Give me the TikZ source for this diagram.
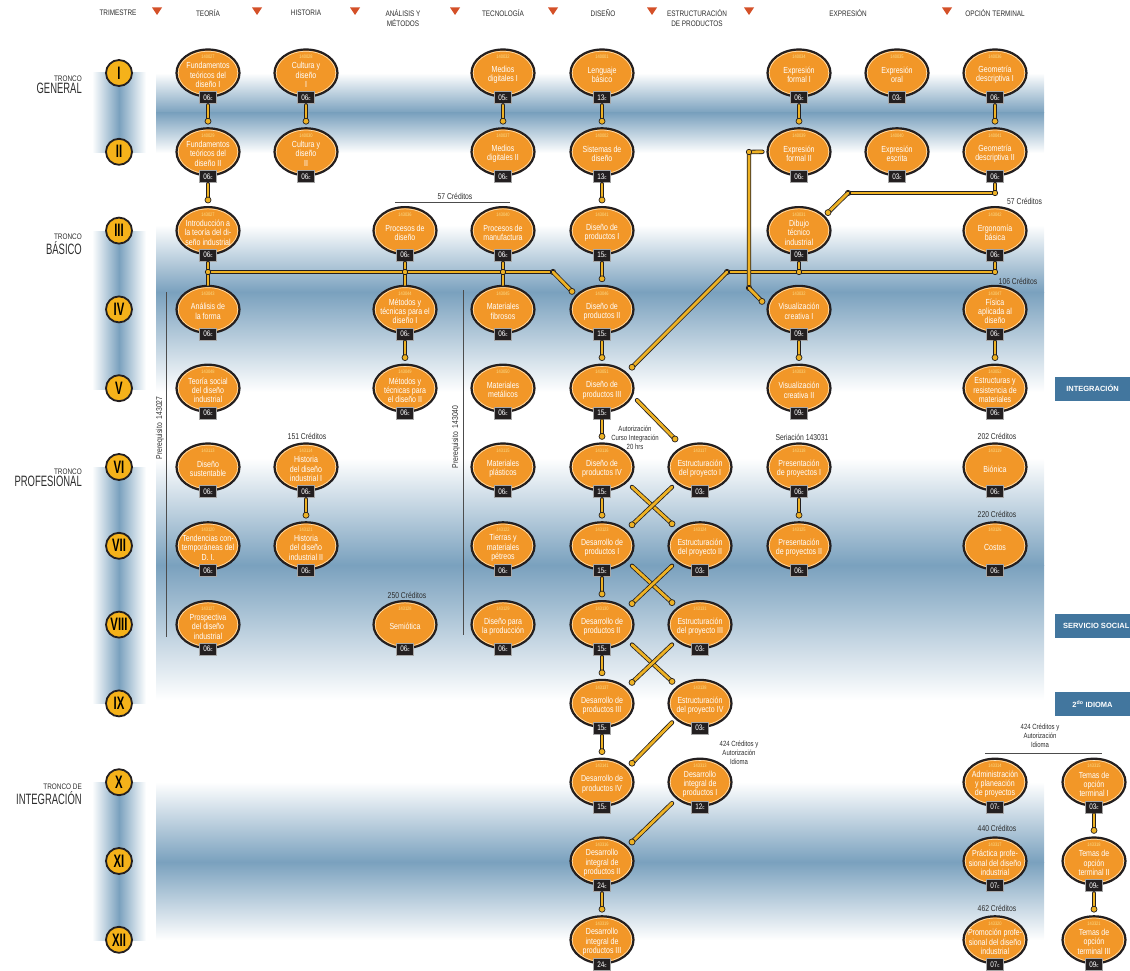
\documentclass[tikz,border=0pt]{standalone}
\usepackage{fontspec}
\setmainfont{Liberation Sans}[FakeStretch=0.8]
\newfontfamily\romfont{Liberation Sans}[FakeStretch=0.63]
\newfontfamily\cajafont{Liberation Sans}
\usetikzlibrary{shapes.geometric,calc,positioning}

\definecolor{naranja}{RGB}{242,151,40}
\definecolor{borde}{RGB}{35,31,32}
\definecolor{crema}{RGB}{252,226,185}
\definecolor{amarillo}{RGB}{250,222,140}
\definecolor{amarilloc}{RGB}{245,178,26}
\definecolor{oro}{RGB}{238,178,36}
\definecolor{banda}{RGB}{122,161,190}
\definecolor{azulcaja}{RGB}{66,118,158}
\definecolor{flecha}{RGB}{212,80,40}
\definecolor{texto}{RGB}{45,45,45}

% materia: nombre, posicion, clave, titulo, creditos
\newcommand\curso[5]{%
  \node[curso] (#1) at (#2) {};
  \draw[anillo] (#1.center) ellipse (29.7pt and 21.7pt);
  \node[clave] (#1-k) at ([yshift=-8.5pt]#1.north) {#3};
  \node[titulo] (#1-t) at ([yshift=-2pt]#1.center) {#4};
  \node[creditos] (#1-c) at (#1.south) {#5{\fontsize{5.5}{5.5}\selectfont c}};
}
% seriacion vertical
\newcommand\enlace[2]{%
  \draw[barra] ([yshift=-1.5pt]#1-c.south) -- ([yshift=8pt]#2.north);
  \filldraw[punto] ([yshift=6pt]#2.north) circle (3pt);
}
% seriacion diagonal
\newcommand\diagonal[2]{%
  \draw[barra] (#1) -- (#2);
  \filldraw[punto] (#2) circle (3pt);
}
\newcommand\junta[1]{\filldraw[punto] (#1) circle (2.7pt);}

\begin{document}
\begin{tikzpicture}[x=1pt,y=-1pt,
  curso/.style={ellipse,draw=borde,line width=2.2pt,fill=naranja,minimum width=63pt,minimum height=47pt,inner sep=0pt},
  anillo/.style={draw=crema,line width=0.6pt},
  clave/.style={text=amarillo,font=\fontsize{5}{5}\selectfont,inner sep=0pt},
  titulo/.style={text=white,align=center,font=\fontsize{8.8}{9.3}\selectfont,inner sep=0pt},
  creditos/.style={fill=borde,draw=gray!70,line width=0.4pt,text=white,font=\fontsize{8}{8}\selectfont,minimum width=17pt,minimum height=12pt,inner sep=1pt},
  barra/.style={draw=borde,line width=4.4pt,line cap=round,postaction={draw=oro,line width=2.8pt,line cap=round}},
  punto/.style={fill=oro,draw=borde,line width=0.7pt},
  trimestre/.style={circle,fill=amarilloc,draw=borde,line width=1.8pt,minimum size=26pt,inner sep=0pt,font=\romfont\bfseries\fontsize{18}{18}\selectfont},
  encabezado/.style={text=texto,align=center,font=\fontsize{8}{9.5}\selectfont,inner sep=0pt},
  tchico/.style={text=texto,font=\fontsize{8}{8}\selectfont,inner sep=0pt},
  tgrande/.style={text=texto,font=\romfont\fontsize{15}{15}\selectfont,inner sep=0pt},
  nota/.style={text=texto,align=center,font=\fontsize{8.5}{9}\selectfont,inner sep=0pt},
  regla/.style={draw=gray!60!black,line width=0.8pt},
  caja/.style={fill=azulcaja,text=white,font=\cajafont\bfseries\fontsize{7.5}{8}\selectfont,minimum height=24pt,inner sep=0pt}
]
\useasboundingbox (0,0) rectangle (1130,971);
\clip (0,0) rectangle (1130,971);

% fondos de los troncos
\foreach \ya/\ym/\yb in {73/113/153, 225/292/392, 458/565/700, 782/862/940} {
  \shade[top color=white,bottom color=banda] (156,\ya) rectangle (1044,\ym);
  \shade[top color=banda,bottom color=white] (156,\ym) rectangle (1044,\yb);
}
\foreach \ya/\yb in {73/153, 231/389, 467/703, 782/940}
  \shade[left color=white,right color=white,middle color=banda] (92,\ya) rectangle (146,\yb);

% encabezado
\node[encabezado] (h1) at (118,13) {TRIMESTRE};
\node[encabezado] (h2) at (208,13) {TEORÍA};
\node[encabezado] (h3) at (306,13) {HISTORIA};
\node[encabezado] (h4) at (403,18) {ANÁLISIS Y\\MÉTODOS};
\node[encabezado] (h5) at (503,13) {TECNOLOGÍA};
\node[encabezado] (h6) at (603,13) {DISEÑO};
\node[encabezado] (h7) at (697,18) {ESTRUCTURACIÓN\\DE PRODUCTOS};
\node[encabezado] (h8) at (848,13) {EXPRESIÓN};
\node[encabezado] (h9) at (995,13) {OPCIÓN TERMINAL};
\foreach \x in {157,257,355,455,553,652,749,947}
  \fill[flecha] (\x-5,7.5) -- (\x+5,7.5) -- (\x,15) -- cycle;

% trimestres
\foreach \r [count=\i] in {I,II,III,IV,V,VI,VII,VIII,IX,X,XI,XII}
  \node[trimestre] (tr\i) at (119,{73+(\i-1)*78.8}) {\r};

% troncos
\node[tchico,anchor=east] (tg) at (82,79) {TRONCO};
\node[tgrande,below=1pt of tg.south east,anchor=north east] (tg-b) {GENERAL};
\node[tchico,anchor=east] (tb) at (82,237) {TRONCO};
\node[tgrande,below=1pt of tb.south east,anchor=north east] (tb-b) {BÁSICO};
\node[tchico,anchor=east] (tp) at (82,472) {TRONCO};
\node[tgrande,below=1pt of tp.south east,anchor=north east] (tp-b) {PROFESIONAL};
\node[tchico,anchor=east] (ti) at (82,787) {TRONCO DE};
\node[tgrande,below=1pt of ti.south east,anchor=north east] (ti-b) {INTEGRACIÓN};

% cajas laterales
\node[caja,minimum width=75pt] (integ) at (1092.5,388.5) {INTEGRACIÓN};
\node[caja,anchor=west,inner xsep=8pt] (servicio) at (1055,625.5) {SERVICIO SOCIAL};
\node[caja,minimum width=75pt] (idioma) at (1092.5,704) {2\textsuperscript{do} IDIOMA};

% prerrequisitos y creditos
\node[nota,rotate=90] (pre1) at (160,428) {Prerequisito\ \ 143027};
\draw[regla] (166,292) -- (166,637);
\node[nota,rotate=90] (pre2) at (456,437) {Prerequisito\ \ 143040};
\draw[regla] (463,290) -- (463,635);
\node[nota] (c57a) at (455,196) {57 Créditos};
\draw[regla] ($(c57a.south)+(-60,3)$) -- ($(c57a.south)+(55,3)$);
\node[nota,anchor=west] (c57b) at (1007,201) {57 Créditos};
\node[nota] (c106) at (1018,281) {106 Créditos};
\node[nota] (c151) at (307,436) {151 Créditos};
\node[nota,font=\fontsize{7.5}{9}\selectfont] (autor) at (635,438) {Autorización\\Curso Integración\\20 hrs};
\node[nota] (seria) at (802,437) {Seriación 143031};
\node[nota] (c202) at (997,436) {202 Créditos};
\node[nota] (c220) at (997,514) {220 Créditos};
\node[nota] (c250) at (407,595) {250 Créditos};
\node[nota,font=\fontsize{7.5}{9}\selectfont] (c424a) at (739,753) {424 Créditos y\\Autorización\\Idioma};
\node[nota,font=\fontsize{7.5}{9}\selectfont] (c424b) at (1040,736) {424 Créditos y\\Autorización\\Idioma};
\draw[regla] (985,753) -- (1102,753);
\node[nota] (c440) at (997,828) {440 Créditos};
\node[nota] (c462) at (997,908) {462 Créditos};

% I
\curso{fti}{208,73}{140027}{Fundamentos\\teóricos del\\diseño I}{06}
\curso{cdi}{306,73}{140028}{Cultura y\\diseño\\I}{06}
\curso{mdi}{503,73}{140032}{Medios\\digitales I}{05}
\curso{leng}{602,73}{140001}{Lenguaje\\básico}{13}
\curso{efi}{799,73}{140034}{Expresión\\formal I}{06}
\curso{eor}{897,73}{140035}{Expresión\\oral}{03}
\curso{gdi}{995,73}{140036}{Geometría\\descriptiva I}{06}
% II
\curso{ftii}{208,151.8}{140029}{Fundamentos\\teóricos del\\diseño II}{06}
\curso{cdii}{306,151.8}{140030}{Cultura y\\diseño\\II}{06}
\curso{mdii}{503,151.8}{140037}{Medios\\digitales II}{06}
\curso{sist}{602,151.8}{140002}{Sistemas de\\diseño}{13}
\curso{efii}{799,151.8}{140039}{Expresión\\formal II}{06}
\curso{eesc}{897,151.8}{140040}{Expresión\\escrita}{03}
\curso{gdii}{995,151.8}{140041}{Geometría\\descriptiva II}{06}
% III
\curso{intro}{208,230.6}{143027}{Introducción a\\la teoría del di-\\seño industrial}{06}
\curso{procd}{405,230.6}{143036}{Procesos de\\diseño}{06}
\curso{procm}{503,230.6}{143040}{Procesos de\\manufactura}{06}
\curso{dpi}{602,230.6}{143041}{Diseño de\\productos I}{15}
\curso{dibujo}{799,230.6}{143031}{Dibujo\\técnico\\industrial}{09}
\curso{ergo}{995,230.6}{143042}{Ergonomía\\básica}{06}
% IV
\curso{analisis}{208,309.4}{143043}{Análisis de\\la forma}{06}
\curso{mti}{405,309.4}{143044}{Métodos y\\técnicas para el\\diseño I}{06}
\curso{mfib}{503,309.4}{143045}{Materiales\\fibrosos}{06}
\curso{dpii}{602,309.4}{143046}{Diseño de\\productos II}{15}
\curso{vci}{799,309.4}{143032}{Visualización\\creativa I}{09}
\curso{fis}{995,309.4}{143047}{Física\\aplicada al\\diseño}{06}
% V
\curso{tsdi}{208,388.2}{143048}{Teoría social\\del diseño\\industrial}{06}
\curso{mtii}{405,388.2}{143049}{Métodos y\\técnicas para\\el diseño II}{06}
\curso{mmet}{503,388.2}{143050}{Materiales\\metálicos}{06}
\curso{dpiii}{602,388.2}{143051}{Diseño de\\productos III}{15}
\curso{vcii}{799,388.2}{143033}{Visualización\\creativa II}{09}
\curso{erm}{995,388.2}{143052}{Estructuras y\\resistencia de\\materiales}{06}
% VI
\curso{dsus}{208,467}{143113}{Diseño\\sustentable}{06}
\curso{hdi}{306,467}{143114}{Historia\\del diseño\\industrial I}{06}
\curso{mpla}{503,467}{143115}{Materiales\\plásticos}{06}
\curso{dpiv}{602,467}{143116}{Diseño de\\productos IV}{15}
\curso{esti}{700,467}{143117}{Estructuración\\del proyecto I}{03}
\curso{ppi}{799,467}{143118}{Presentación\\de proyectos I}{06}
\curso{bio}{995,467}{143119}{Biónica}{06}
% VII
\curso{tcdi}{208,545.8}{143120}{Tendencias con-\\temporáneas del\\D. I.}{06}
\curso{hdii}{306,545.8}{143121}{Historia\\del diseño\\industrial II}{06}
\curso{tmp}{503,545.8}{143122}{Tierras y\\materiales\\pétreos}{06}
\curso{dsi}{602,545.8}{143123}{Desarrollo de\\productos I}{15}
\curso{estii}{700,545.8}{143124}{Estructuración\\del proyecto II}{03}
\curso{ppii}{799,545.8}{143125}{Presentación\\de proyectos II}{06}
\curso{costos}{995,545.8}{143126}{Costos}{06}
% VIII
\curso{pdi}{208,624.6}{143127}{Prospectiva\\del diseño\\industrial}{06}
\curso{semi}{405,624.6}{143128}{Semiótica}{06}
\curso{dprod}{503,624.6}{143129}{Diseño para\\la producción}{06}
\curso{dsii}{602,624.6}{143130}{Desarrollo de\\productos II}{15}
\curso{estiii}{700,624.6}{143131}{Estructuración\\del proyecto III}{03}
% IX
\curso{dsiii}{602,703.4}{143137}{Desarrollo de\\productos III}{15}
\curso{estiv}{700,703.4}{143138}{Estructuración\\del proyecto IV}{03}
% X
\curso{dsiv}{602,782.2}{143141}{Desarrollo de\\productos IV}{15}
\curso{dipi}{700,782.2}{143313}{Desarrollo\\integral de\\productos I}{12}
\curso{adm}{995,782.2}{143314}{Administración\\y planeación\\de proyectos}{07}
\curso{toi}{1094,782.2}{143315}{Temas de\\opción\\terminal I}{03}
% XI
\curso{dipii}{602,861}{143316}{Desarrollo\\integral de\\productos II}{24}
\curso{ppdi}{995,861}{143317}{Práctica profe-\\sional del diseño\\industrial}{07}
\curso{toii}{1094,861}{143318}{Temas de\\opción\\terminal II}{09}
% XII
\curso{dipiii}{602,939.8}{143319}{Desarrollo\\integral de\\productos III}{24}
\curso{prodi}{995,939.8}{143320}{Promoción profe-\\sional del diseño\\industrial}{07}
\curso{toiii}{1094,939.8}{143321}{Temas de\\opción\\terminal III}{09}

% seriaciones verticales
\enlace{fti}{ftii}
\enlace{cdi}{cdii}
\enlace{mdi}{mdii}
\enlace{leng}{sist}
\enlace{efi}{efii}
\enlace{gdi}{gdii}
\enlace{ftii}{intro}
\enlace{sist}{dpi}
\enlace{dpi}{dpii}
\enlace{dpii}{dpiii}
\enlace{mti}{mtii}
\enlace{vci}{vcii}
\enlace{fis}{erm}
\enlace{dpiii}{dpiv}
\enlace{hdi}{hdii}
\enlace{dpiv}{dsi}
\enlace{ppi}{ppii}
\enlace{dsi}{dsii}
\enlace{dsii}{dsiii}
\enlace{dsiii}{dsiv}
\enlace{dipii}{dipiii}
\enlace{toi}{toii}
\enlace{toii}{toiii}

% linea de 57 creditos (izquierda)
\coordinate (jl1) at (208,272);
\coordinate (jl2) at (405,272);
\coordinate (jl3) at (503,272);
\coordinate (jl4) at (553,272);
\draw[barra] (jl1) -- (jl4);
\draw[barra] ([yshift=-1.5pt]intro-c.south) -- (analisis.north);
\draw[barra] ([yshift=-1.5pt]procd-c.south) -- (mti.north);
\draw[barra] ([yshift=-1.5pt]procm-c.south) -- (mfib.north);
\junta{jl1} \junta{jl2} \junta{jl3} \junta{jl4}
\diagonal{jl4}{$(dpii.center)+(-30,-18)$}

% linea de 106 creditos (derecha)
\coordinate (jr1) at (727,272);
\coordinate (jr2) at (799,272);
\coordinate (jr3) at (995,272);
\draw[barra] (jr1) -- (jr3);
\draw[barra] ([yshift=-1.5pt]dibujo-c.south) -- (jr2);
\draw[barra] ([yshift=-1.5pt]ergo-c.south) -- (jr3);
\junta{jr1} \junta{jr2} \junta{jr3}
\diagonal{jr1}{$(dpiii.center)+(30,-21)$}

% expresion formal II a visualizacion creativa I
\coordinate (jv1) at (749,152);
\coordinate (jv2) at (749,288);
\draw[barra] ([xshift=-4pt]efii.west) -- (jv1) -- (jv2);
\junta{jv1} \junta{jv2}
\diagonal{jv2}{$(vci.center)+(-37,-8)$}

% geometria descriptiva II a dibujo tecnico
\coordinate (jg1) at (995,193);
\coordinate (jg2) at (848,193);
\draw[barra] ([yshift=-1.5pt]gdii-c.south) -- (jg1) -- (jg2);
\junta{jg1} \junta{jg2}
\diagonal{jg2}{$(dibujo.center)+(29,-18)$}

% diagonales de diseno y estructuracion
\diagonal{$(dpiii.center)+(35,12)$}{$(esti.center)+(-25,-28)$}
\diagonal{$(dpiv.center)+(30,20)$}{$(estii.center)+(-28,-22)$}
\diagonal{$(esti.center)+(-28,20)$}{$(dsi.center)+(30,-21)$}
\diagonal{$(dsi.center)+(30,20)$}{$(estiii.center)+(-28,-22)$}
\diagonal{$(estii.center)+(-28,20)$}{$(dsii.center)+(30,-21)$}
\diagonal{$(dsii.center)+(30,20)$}{$(estiv.center)+(-28,-22)$}
\diagonal{$(estiii.center)+(-28,20)$}{$(dsiii.center)+(30,-21)$}
\diagonal{$(estiv.center)+(-28,19)$}{$(dsiv.center)+(30,-19)$}
\diagonal{$(dipi.center)+(-28,21)$}{$(dipii.center)+(30,-19)$}
\end{tikzpicture}
\end{document}
